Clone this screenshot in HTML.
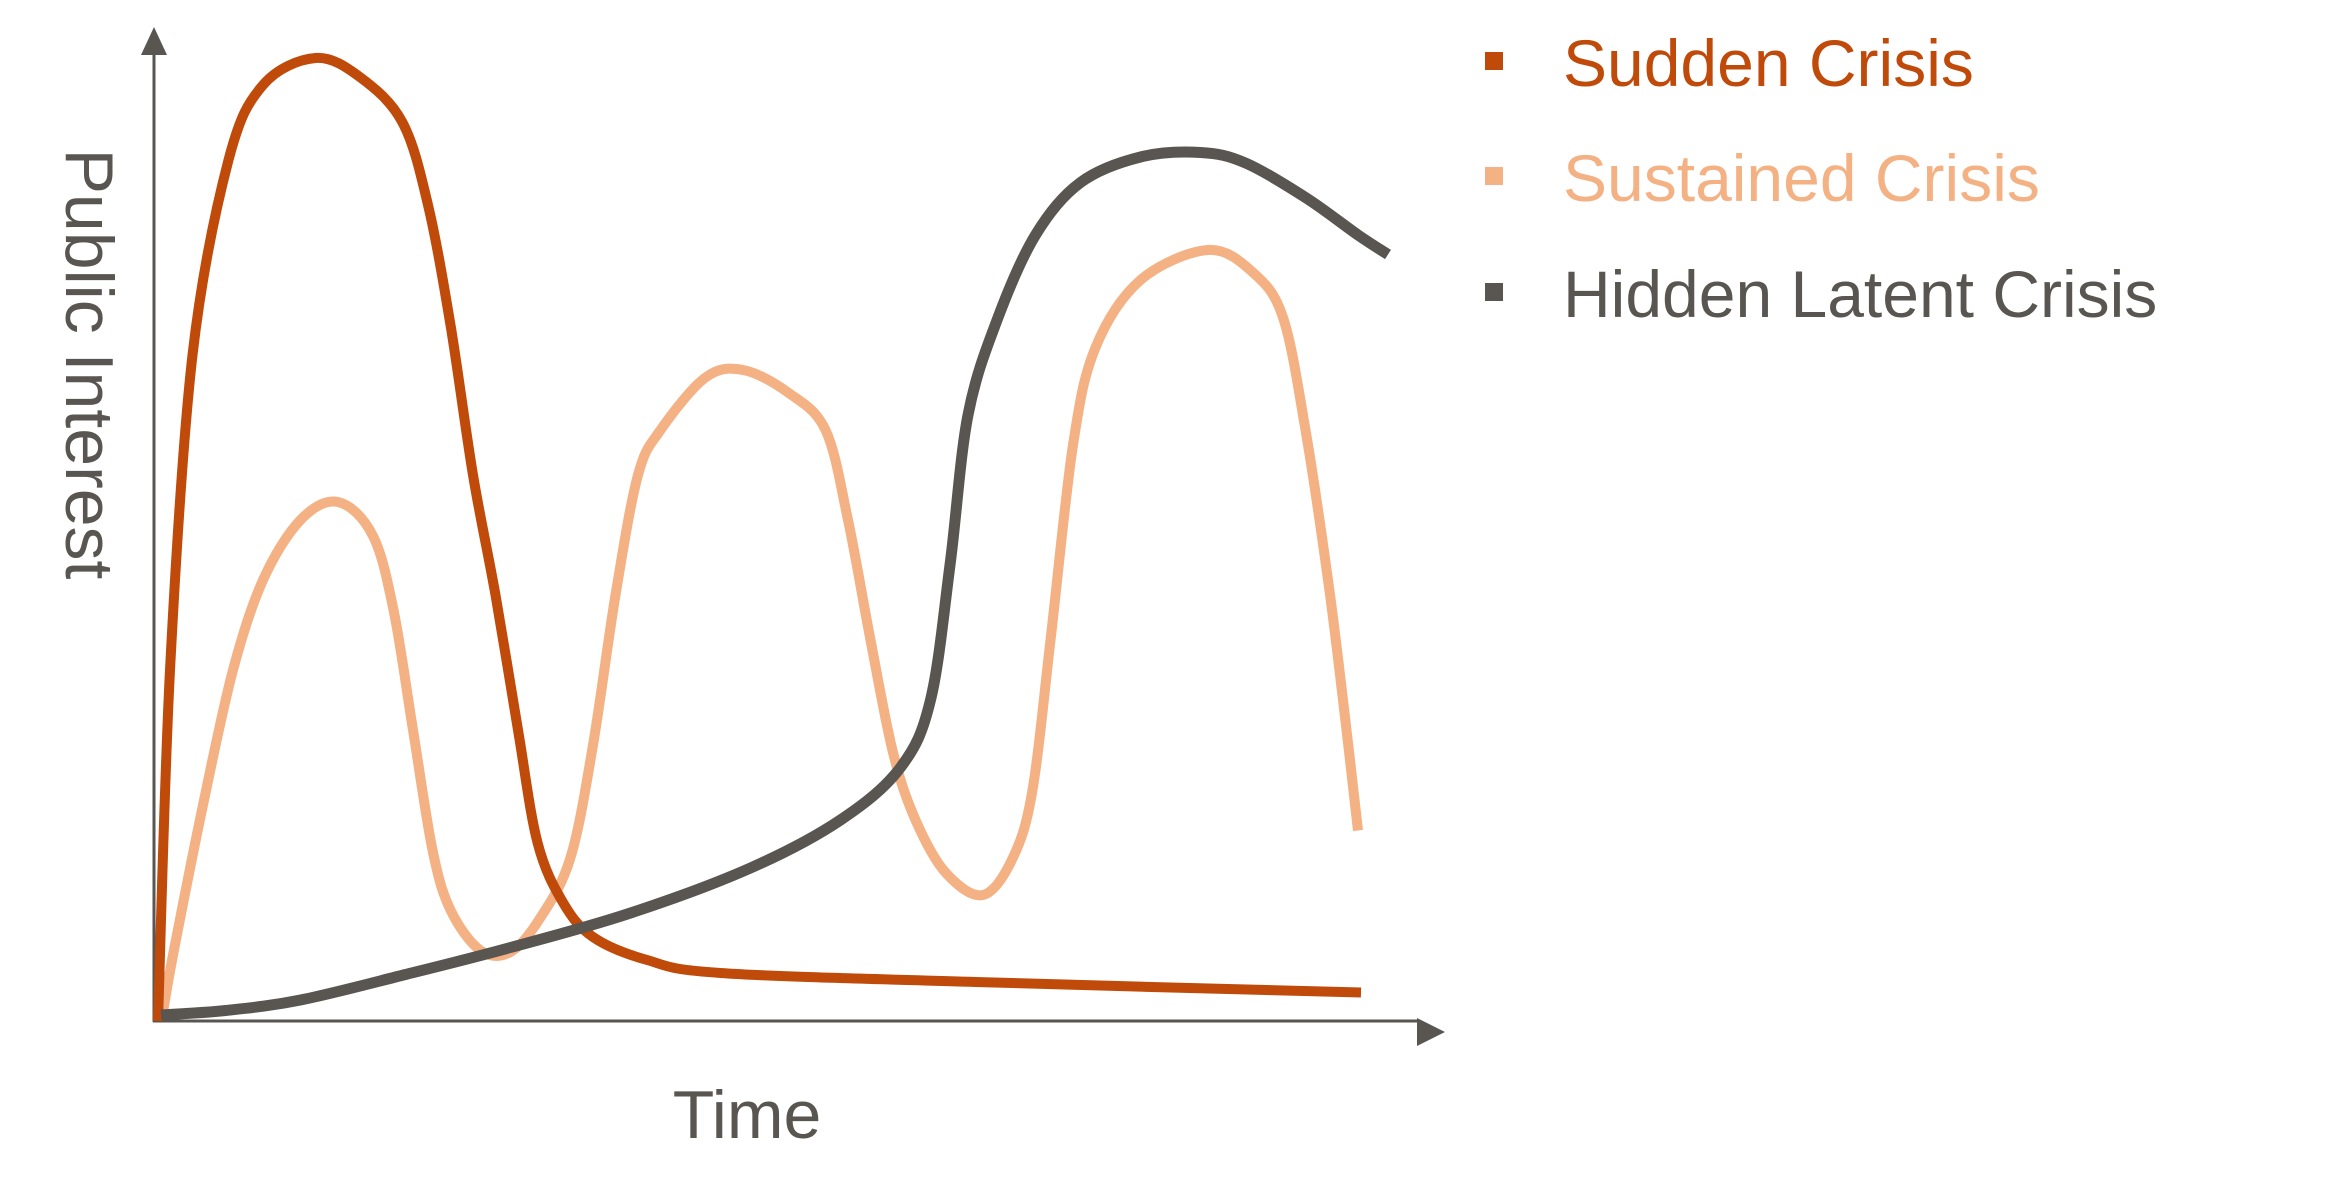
<!DOCTYPE html>
<html><head><meta charset="utf-8">
<style>
html,body{margin:0;padding:0;background:#fff;}
svg{display:block;}
text{font-family:"Liberation Sans","DejaVu Sans",sans-serif;}
</style></head>
<body>
<svg id="chart" width="2327" height="1193" viewBox="0 0 2327 1193">
  <g id="axes">
    <line x1="154" y1="1022" x2="154" y2="45" stroke="#595551" stroke-width="3"/>
    <polygon points="154,27 141,55 167,55" fill="#595551"/>
    <line x1="153" y1="1021" x2="1420" y2="1021" stroke="#595551" stroke-width="3"/>
    <polygon points="1445,1032 1417,1018 1417,1046" fill="#595551"/>
    <text x="747" y="1138" font-size="68" fill="#595551" text-anchor="middle">Time</text>
    <text transform="translate(66,364) rotate(90)" font-size="68" fill="#595551" text-anchor="middle">Public Interest</text>
  </g>
  <g id="series"></g>
  <g id="legend">
    <g>
      <rect x="1485" y="52" width="18" height="18" fill="#BF4A0A"/>
      <text x="1563" y="86" font-size="66" fill="#BF4A0A">Sudden Crisis</text>
    </g>
    <g>
      <rect x="1485" y="167" width="18" height="18" fill="#F4B183"/>
      <text x="1563" y="201" font-size="66" fill="#F4B183">Sustained Crisis</text>
    </g>
    <g>
      <rect x="1485" y="283" width="18" height="18" fill="#595551"/>
      <text x="1563" y="317" font-size="66" fill="#595551">Hidden Latent Crisis</text>
    </g>
  </g>
</svg>
<script>
const suddenTime = [2,10,25,49,72,107,137,165,182,197,212,227,242,255,272,292,327,377,547,804];
const suddenValue = [0,234,444,574,624,642,629,599,544,464,364,284,194,119,79,56,41,32,26,19];
const sustainedTime = [5,12,32,52,72,97,122,145,159,172,185,197,217,237,257,277,292,307,322,337,367,392,422,447,462,477,492,507,527,552,572,585,597,612,627,657,702,732,752,767,782,792,802];
const sustainedValue = [4,44,144,234,294,334,346,324,274,194,114,74,47,46,69,109,184,284,364,394,429,434,419,394,334,254,179,134,99,84,109,154,254,384,449,494,514,499,469,394,294,214,127];
const hiddenTime = [4,47,97,167,237,317,397,457,497,517,530,542,562,587,617,657,697,727,767,802,822];
const hiddenValue = [4,7,14,31,49,72,102,134,169,214,304,404,469,524,559,576,579,572,549,524,511];

function xScale(t){ return 155 + t*1.5; }
function yScale(v){ return 1021 - v*1.5; }

function smoothPath(ts, vs){
  const p = ts.map((t,i)=>[xScale(t), yScale(vs[i])]);
  let d = 'M' + p[0][0].toFixed(1) + ',' + p[0][1].toFixed(1);
  for(let i=0;i<p.length-1;i++){
    const p0=p[i-1]||p[i], p1=p[i], p2=p[i+1], p3=p[i+2]||p2;
    const c1=[p1[0]+(p2[0]-p0[0])/6, p1[1]+(p2[1]-p0[1])/6];
    const c2=[p2[0]-(p3[0]-p1[0])/6, p2[1]-(p3[1]-p1[1])/6];
    d += ' C'+c1[0].toFixed(1)+','+c1[1].toFixed(1)+' '+c2[0].toFixed(1)+','+c2[1].toFixed(1)+' '+p2[0].toFixed(1)+','+p2[1].toFixed(1);
  }
  return d;
}
const g = document.getElementById('series');
function addLine(ts, vs, color, w, name){
  const el = document.createElementNS('http://www.w3.org/2000/svg','path');
  el.setAttribute('d', smoothPath(ts, vs));
  el.setAttribute('fill','none');
  el.setAttribute('stroke',color);
  el.setAttribute('stroke-width',w);
  
  
  g.appendChild(el);
}
addLine(sustainedTime, sustainedValue, '#F4B183', 10, 'sustained-crisis-line');
addLine(suddenTime, suddenValue, '#BF4A0A', 10, 'sudden-crisis-line');
addLine(hiddenTime, hiddenValue, '#595551', 11, 'hidden-latent-crisis-line');
</script>
</body></html>
